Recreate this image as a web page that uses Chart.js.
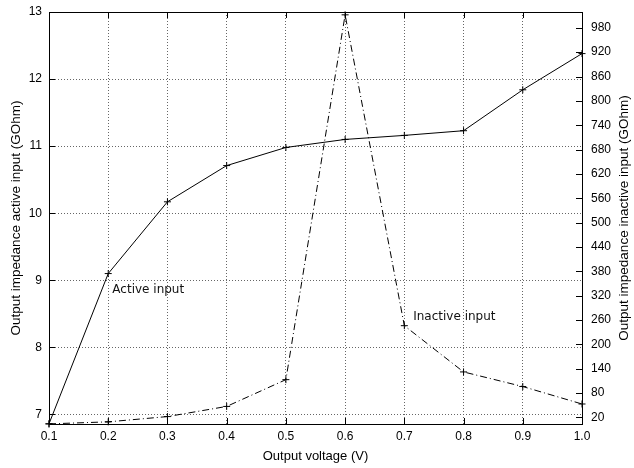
<!DOCTYPE html>
<html>
<head>
<meta charset="utf-8">
<script src="https://cdn.jsdelivr.net/npm/chart.js@4"></script>
<style>
    html, body { margin: 0; padding: 0; background: #fff; }
    #wrap { width: 634px; height: 468px; }
</style>
</head>
<body>
<div id="wrap"><canvas id="chart" width="634" height="468"></canvas></div>
<script>
const voltages = [0.1, 0.2, 0.3, 0.4, 0.5, 0.6, 0.7, 0.8, 0.9, 1.0];
const activeInput = [6.86, 9.10, 10.17, 10.71, 10.98, 11.10, 11.16, 11.23, 11.84, 12.38];
const inactiveInput = [4, 9, 22, 47, 113, 1012, 246, 132, 96, 53];

const xTicks = [0.1, 0.2, 0.3, 0.4, 0.5, 0.6, 0.7, 0.8, 0.9, 1.0];
const leftTicks = [7, 8, 9, 10, 11, 12, 13];
const rightTicks = [20, 80, 140, 200, 260, 320, 380, 440, 500, 560, 620, 680, 740, 800, 860, 920, 980];

const leftTitle = 'Output impedance active input (GOhm)';
const rightTitle = 'Output impedance inactive input (GOhm)';

// text labels placed in data space: [text, x, y, axis]
const curveLabels = [
    ['Active input', 0.207, 8.85, 'y'],
    ['Inactive input', 0.715, 268, 'y2']
];

const tickFont = { family: 'Liberation Sans', size: 12 };

function fixTicks(list) {
    return scale => { scale.ticks = list.map(v => ({ value: v })); };
}

function noPad(size) {
    return scale => {
        if (scale.isHorizontal()) scale.height = size;
        else scale.width = size;
        scale.paddingTop = 0;
        scale.paddingBottom = 0;
        scale.paddingLeft = 0;
        scale.paddingRight = 0;
    };
}

// box round the plot, inward tick marks, y titles, curve labels
const framePlugin = {
    id: 'frame',
    afterDatasetsDraw(chart) {
        const { ctx, chartArea: a, scales } = chart;
        ctx.save();
        ctx.strokeStyle = '#000';
        ctx.lineWidth = 1;
        ctx.beginPath();
        xTicks.forEach(v => {
            const px = Math.round(scales.x.getPixelForValue(v)) + 0.5;
            ctx.moveTo(px, a.bottom); ctx.lineTo(px, a.bottom - 6);
            ctx.moveTo(px, a.top); ctx.lineTo(px, a.top + 6);
        });
        leftTicks.forEach(v => {
            const py = Math.round(scales.y.getPixelForValue(v)) + 0.5;
            ctx.moveTo(a.left, py); ctx.lineTo(a.left + 6, py);
        });
        rightTicks.forEach(v => {
            const py = Math.round(scales.y2.getPixelForValue(v)) + 0.5;
            ctx.moveTo(a.right, py); ctx.lineTo(a.right - 6, py);
        });
        ctx.stroke();
        ctx.strokeRect(Math.round(a.left) + 0.5, Math.round(a.top) + 0.5,
            Math.round(a.right - a.left), Math.round(a.bottom - a.top));

        const midY = (a.top + a.bottom) / 2;
        ctx.fillStyle = '#000';
        ctx.font = '13.5px "Liberation Sans"';
        ctx.textAlign = 'center';
        ctx.textBaseline = 'middle';
        ctx.save();
        ctx.translate(16, midY);
        ctx.rotate(-Math.PI / 2);
        ctx.fillText(leftTitle, 0, 0);
        ctx.restore();
        ctx.save();
        ctx.translate(624, midY);
        ctx.rotate(-Math.PI / 2);
        ctx.fillText(rightTitle, 0, 0);
        ctx.restore();

        ctx.fillStyle = '#111';
        ctx.font = '12px "DejaVu Sans"';
        ctx.textAlign = 'left';
        curveLabels.forEach(([text, x, y, axis]) => {
            ctx.fillText(text, scales.x.getPixelForValue(x), scales[axis].getPixelForValue(y));
        });
        ctx.restore();
    }
};

new Chart(document.getElementById('chart'), {
    type: 'line',
    data: {
        labels: voltages,
        datasets: [{
            label: 'Active input',
            data: voltages.map((v, i) => ({ x: v, y: activeInput[i] })),
            yAxisID: 'y',
            borderColor: '#000',
            borderWidth: 1,
            pointStyle: 'cross',
            pointRadius: 3.5,
            pointBorderColor: '#000',
            pointBorderWidth: 1,
            tension: 0
        }, {
            label: 'Inactive input',
            data: voltages.map((v, i) => ({ x: v, y: inactiveInput[i] })),
            yAxisID: 'y2',
            borderColor: '#000',
            borderWidth: 1,
            borderDash: [7, 3, 1, 3],
            pointStyle: 'cross',
            pointRadius: 3.5,
            pointBorderColor: '#000',
            pointBorderWidth: 1,
            tension: 0
        }]
    },
    options: {
        responsive: false,
        animation: false,
        clip: false,
        layout: { padding: { top: 12 } },
        plugins: {
            legend: { display: false },
            tooltip: { enabled: false }
        },
        scales: {
            x: {
                type: 'linear',
                min: 0.1,
                max: 1.0,
                afterBuildTicks: fixTicks(xTicks),
                afterFit: noPad(44),
                border: { display: false, dash: [1, 2] },
                grid: { color: '#666', drawTicks: false },
                ticks: {
                    color: '#000', font: tickFont, padding: 5,
                    callback: v => v.toFixed(1)
                },
                title: {
                    display: true, text: 'Output voltage (V)', color: '#000',
                    font: { family: 'Liberation Sans', size: 13 }, padding: { top: 2 }
                }
            },
            y: {
                position: 'left',
                min: 6.857,
                max: 13.0,
                afterBuildTicks: fixTicks(leftTicks),
                afterFit: noPad(49),
                border: { display: false, dash: [1, 2] },
                grid: { color: '#666', drawTicks: false },
                ticks: { color: '#000', font: tickFont, padding: 7 }
            },
            y2: {
                position: 'right',
                min: 3.7,
                max: 1019,
                afterBuildTicks: fixTicks(rightTicks),
                afterFit: noPad(52),
                border: { display: false },
                grid: { drawOnChartArea: false, drawTicks: false },
                ticks: { color: '#000', font: tickFont, padding: 9 }
            }
        }
    },
    plugins: [framePlugin]
});
</script>
</body>
</html>
